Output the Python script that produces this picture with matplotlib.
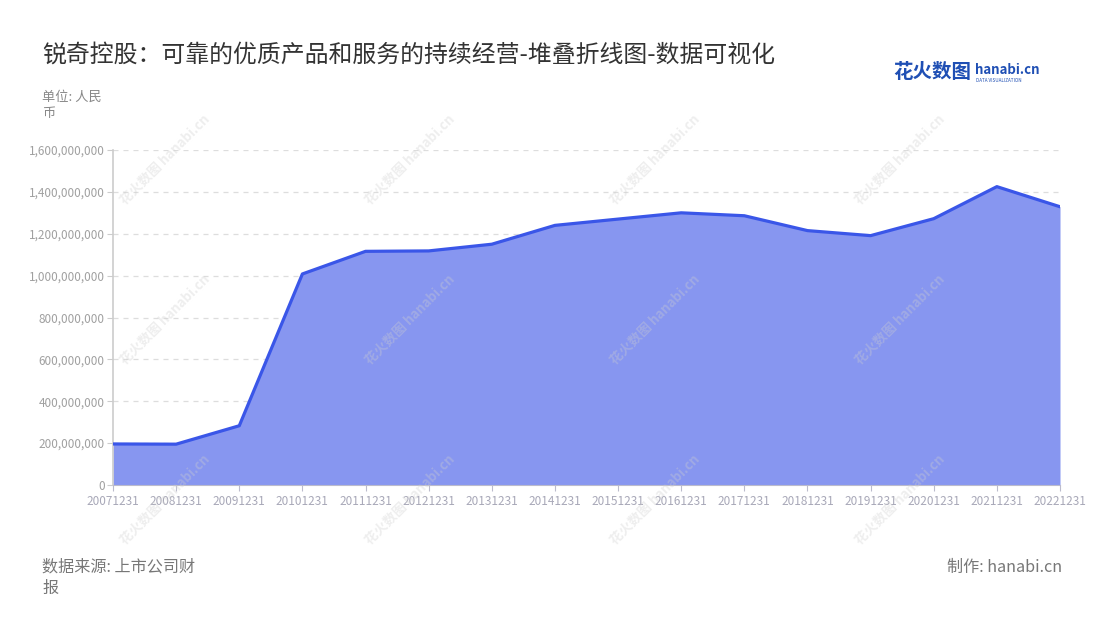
import matplotlib
matplotlib.use('Agg')
import matplotlib.pyplot as plt
from matplotlib.ticker import FuncFormatter

plt.rcParams['font.family'] = ['Noto Sans CJK SC', 'DejaVu Sans']

# 数据
dates = ['20071231', '20081231', '20091231', '20101231', '20111231', '20121231',
         '20131231', '20141231', '20151231', '20161231', '20171231', '20181231',
         '20191231', '20201231', '20211231', '20221231']
values = [196e6, 195e6, 283e6, 1008e6, 1116e6, 1118e6,
          1150e6, 1240e6, 1270e6, 1300e6, 1286e6, 1215e6,
          1191e6, 1272e6, 1425e6, 1329e6]
yticks = [0, 200e6, 400e6, 600e6, 800e6, 1000e6, 1200e6, 1400e6, 1600e6]

fig = plt.figure(figsize=(11, 6.2), dpi=100)
ax = fig.add_axes([113 / 1100, 1 - 485 / 620, (1060 - 113) / 1100, (485 - 150) / 620])

x = list(range(len(dates)))
ax.fill_between(x, values, 0, color='#8796f0', linewidth=0, zorder=2)
ax.plot(x, values, color='#3a56e8', linewidth=2.3, zorder=3)

ax.set_xlim(0, len(dates) - 1)
ax.set_ylim(0, 1600e6)
ax.set_xticks(x)
ax.set_xticklabels(dates)
ax.set_yticks(yticks)
ax.yaxis.set_major_formatter(FuncFormatter(lambda v, p: f'{int(v):,}'))

ax.grid(axis='y', linestyle=(0, (4, 4)), color='#dddddd', linewidth=0.9, zorder=1)
for s in ['top', 'right']:
    ax.spines[s].set_visible(False)
ax.spines['left'].set_color('#cccccc')
ax.spines['bottom'].set_color('#bbbbcc')
ax.spines['left'].set_linewidth(1.2)
ax.tick_params(axis='x', colors='#bbbbcc', labelcolor='#a8a8b8', labelsize=8.5, length=4, pad=3)
ax.tick_params(axis='y', colors='#cccccc', labelcolor='#a0a0a0', labelsize=8.5, length=4, pad=2)

# 水印
for wx in [165, 410, 655, 900]:
    for wy in [160, 320, 500]:
        fig.text(wx / 1100, 1 - wy / 620, '花火数图 hanabi.cn', rotation=45, fontsize=9.5,
                 color='#cfcfcf', ha='center', va='center', zorder=5, alpha=0.35,
                 fontweight='bold')

# 文字
fig.text(42 / 1100, 1 - 55 / 620, '锐奇控股：可靠的优质产品和服务的持续经营-堆叠折线图-数据可视化',
         fontsize=17.2, color='#333333', va='center')
fig.text(42 / 1100, 1 - 105 / 620, '单位: 人民\n币', fontsize=9.5, color='#888888',
         va='center', linespacing=1.3)
fig.text(42 / 1100, 1 - 578 / 620, '数据来源: 上市公司财\n报', fontsize=11.6, color='#777777',
         va='center', linespacing=1.35)
fig.text(1062 / 1100, 1 - 567 / 620, '制作: hanabi.cn', fontsize=11.6, color='#777777',
         va='center', ha='right')

# logo
fig.text(893 / 1100, 1 - 73 / 620, '花火数图', fontsize=14, color='#1f4fb4',
         fontweight='bold', va='center')
fig.text(975 / 1100, 1 - 70 / 620, 'hanabi.cn', fontsize=9.5, color='#1f4fb4',
         fontweight='bold', va='center')
fig.text(976 / 1100, 1 - 80 / 620, 'DATA VISUALIZATION', fontsize=3.3, color='#1f4fb4',
         va='center')

fig.savefig('out.png', dpi=100)
